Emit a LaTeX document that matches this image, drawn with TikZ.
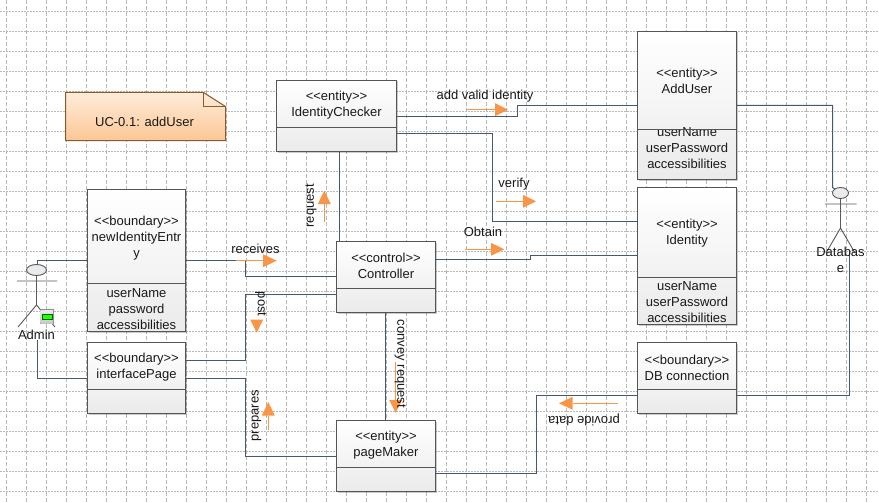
\documentclass[tikz,border=0pt]{standalone}
\usepackage{fontspec}
\setmainfont{Liberation Sans}
\usetikzlibrary{calc,shadows}
\definecolor{gridc}{HTML}{B8B8B8}
\definecolor{linec}{HTML}{45596F}
\definecolor{boxline}{HTML}{555555}
\definecolor{arrowc}{HTML}{F79646}
\definecolor{notetop}{HTML}{FFECDA}
\definecolor{notebot}{HTML}{FBC795}
\definecolor{noteline}{HTML}{8A5A2C}
\tikzset{
  x=1pt,y=-1pt,
  txt/.style={font=\fontsize{13}{16}\selectfont,align=center,inner sep=0pt,text=black!90,yshift=-0.7pt},
  umlbox/.style={draw=boxline,line width=1pt,top color=white,bottom color=black!8,shade,anchor=north west,inner sep=0pt,outer sep=0pt,
     drop shadow={shadow xshift=1pt,shadow yshift=-1pt,fill=black,opacity=.2}},
  divider/.style={draw=boxline,line width=.9pt},
  conn/.style={draw=linec,line width=1pt},
  actorline/.style={draw=black!65,line width=.9pt},
  flow/.style={draw=arrowc,line width=.8pt},
  flowhead/.style={fill=arrowc,draw=none},
}
\newcommand{\umlb}[6]{%
  \node[umlbox,minimum width=#4-#2,minimum height=#5-#3] (#1) at (#2,#3) {};
  \coordinate (#1-d1) at (#2,#6);
  \coordinate (#1-d2) at (#4,#6);
}
\newcommand{\flowx}[4]{% y, x from, x base, x tip
  \coordinate (fa) at (#2,#1); \coordinate (fb) at (#3,#1); \coordinate (fc) at (#4,#1);
  \draw[flow] (fa) -- (fb);
  \fill[flowhead] (fc) -- (#3,#1-6.5) -- (#3,#1+6.5) -- cycle;
}
\newcommand{\flowy}[4]{% x, y from, y base, y tip
  \coordinate (fa) at (#1,#2); \coordinate (fb) at (#1,#3); \coordinate (fc) at (#1,#4);
  \draw[flow] (fa) -- (fb);
  \fill[flowhead] (fc) -- (#1-6.5,#3) -- (#1+6.5,#3) -- cycle;
}
\begin{document}
\begin{tikzpicture}
\useasboundingbox (0,0) rectangle (879,503);
\fill[white] (0,0) rectangle (879,503);
% grid
\foreach \gx in {6.5,26.5,...,870}
  \draw[gridc,line width=.8pt,dash pattern=on 4pt off 2pt] (\gx,0) -- (\gx,503);
\foreach \gy in {11.5,31.5,...,500}
  \draw[gridc,line width=.7pt,dash pattern=on 1.5pt off 1.5pt] (0,\gy) -- (879,\gy);
\node[inner sep=0pt,minimum size=0pt] (admin) at (36.5,270) {};
\node[inner sep=0pt,minimum size=0pt] (db) at (840.5,193) {};

\umlb{ne}{87.5}{189.5}{185.5}{331.5}{283.5}
\umlb{ip}{87.5}{342.5}{185.5}{413.5}{389.5}
\umlb{ic}{276.5}{80.5}{396.5}{151.5}{127.5}
\umlb{ct}{336.5}{241.5}{435.5}{312.5}{288.5}
\umlb{pm}{336.5}{420.5}{435.5}{491.5}{467.5}
\umlb{dbc}{637.5}{342.5}{736.5}{413.5}{389.5}
\umlb{au}{637.5}{31.5}{736.5}{179.5}{129.5}
\umlb{id}{637.5}{187.5}{736.5}{324.5}{277.5}

\draw[conn] (ne.west |- 0,260.5) -- (37.5,260.5) -- (37.5,265);
\draw[conn] (37.5,340) -- (37.5,378.5) -- (ip.west |- 0,378.5);
\draw[conn] (ne.east |- 0,260.5) -- (245.5,260.5) -- (245.5,276.5) -- (ct.west |- 0,276.5);
\draw[conn] (ip.east |- 0,360.5) -- (245.5,360.5) -- (245.5,294.5) -- (ct.west |- 0,294.5);
\draw[conn] (ip.east |- 0,378.5) -- (245.5,378.5) -- (245.5,456.5) -- (pm.west |- 0,456.5);
\draw[conn] (ic.east |- 0,116.5) -- (517.5,116.5) -- (517.5,105.5) -- (au.west |- 0,105.5);
\draw[conn] (ic.east |- 0,133.5) -- (492.5,133.5) -- (492.5,221.5) -- (id.west |- 0,221.5);
\draw[conn] (ct.east |- 0,259.5) -- (530.5,259.5) -- (530.5,255.5) -- (id.west |- 0,255.5);
\draw[conn] (339.5,151.5) -- (339.5,241.5);
\draw[conn] (385.5,312.5) -- (385.5,420.5);
\draw[conn] (pm.east |- 0,473.5) -- (536.5,473.5) -- (536.5,395.5) -- (dbc.west |- 0,395.5);
\draw[conn] (au.east |- 0,105.5) -- (832.5,105.5) -- (832.5,187.5) -- (db.north);
\draw[conn] (dbc.east |- 0,395.5) -- (849.5,395.5) -- (849.5,250);

% box texts
\node[txt] (ne-h) at (136.5,237) {<{}<boundary>{}>\\newIdentityEntr\\y};
\node[txt] (ne-a) at (136.5,308.5) {userName\\password\\accessibilities};
\node[txt] (ip-h) at (136.5,366.7) {<{}<boundary>{}>\\interfacePage};
\node[txt] (ic-h) at (336.5,104.7) {<{}<entity>{}>\\IdentityChecker};
\node[txt] (ct-h) at (386,264.7) {<{}<control>{}>\\Controller};
\node[txt] (pm-h) at (386,444.7) {<{}<entity>{}>\\pageMaker};
\node[txt] (dbc-h) at (687,366.7) {<{}<boundary>{}>\\DB connection};
\node[txt] (au-h) at (687,80.3) {<{}<entity>{}>\\AddUser};
\node[txt] (au-a) at (687,147.7) {userName\\userPassword\\accessibilities};
\node[txt] (id-h) at (687,232) {<{}<entity>{}>\\Identity};
\node[txt] (id-a) at (687,301.7) {userName\\userPassword\\accessibilities};
\foreach \b in {ne,ip,ic,ct,pm,dbc,au,id}
  \draw[divider] (\b-d1) -- (\b-d2);

% note
\path[top color=notetop,bottom color=notebot,draw=noteline,line width=1pt]
  (65.5,92.5) -- (203.5,92.5) -- (225.5,106.5) -- (225.5,140.5) -- (65.5,140.5) -- cycle;
\draw[noteline,line width=1pt] (203.5,92.5) -- (203.5,106.5) -- (225.5,106.5);
\node[txt] (note) at (144.5,121) {UC-0.1: addUser};

% actors
\draw[actorline,fill=black!8] (admin) ellipse [x radius=10,y radius=5.5];
\draw[actorline] (17,281) -- (57,281) (36.5,275.5) -- (36.5,305) (18,327) -- (36.5,305) -- (55,327);
\fill[black!45] (39.5,309) rectangle (54,324);
\shade[top color=black!8,bottom color=black!22] (40.5,310) rectangle (53,323);
\fill[green!85!yellow] (42,314) rectangle (52,319);
\draw[green!40!black,line width=.4pt] (42,314) rectangle (52,319);
\node[txt] (admin-t) at (36.5,334) {Admin};
\draw[actorline,fill=black!8] (db) ellipse [x radius=8,y radius=5.5];
\draw[actorline] (825,204) -- (856.5,204) (840.5,198.5) -- (840.5,228) (826,253) -- (840.5,228) -- (855,253);
\node[txt] (db-t) at (840.5,259.5) {Databas\\e};

% orange arrows
\flowx{260.7}{236}{263}{276.7}
\flowx{109.7}{466.7}{495}{508}
\flowx{201.3}{496}{523}{536}
\flowx{249.3}{464.5}{491}{504.3}
\flowy{324.3}{222}{204}{190.7}
\fill[flowhead] (256.7,332.7) -- (250.2,319.5) -- (263.2,319.5) -- cycle;
\flowy{268.3}{430}{415.7}{402}
\flowy{395.7}{361.7}{400}{412.7}
\flowx{403.3}{618.3}{572.7}{559}

% labels
\node[txt] (l1) at (255.5,248) {receives};
\node[txt] (l2) at (485,95.7) {add valid identity};
\node[txt] (l3) at (514,183) {verify};
\node[txt] (l4) at (483,230.7) {Obtain};
\node[txt,rotate=90] (l5) at (311,205) {request};
\node[txt,rotate=-90] (l6) at (260.7,303.5) {post};
\node[txt,rotate=90] (l7) at (256.5,415) {prepares};
\node[txt,rotate=-90] (l8) at (400.3,363.3) {convey request};
\node[txt,rotate=180] (l9) at (584,419) {provide data};
\end{tikzpicture}
\end{document}
